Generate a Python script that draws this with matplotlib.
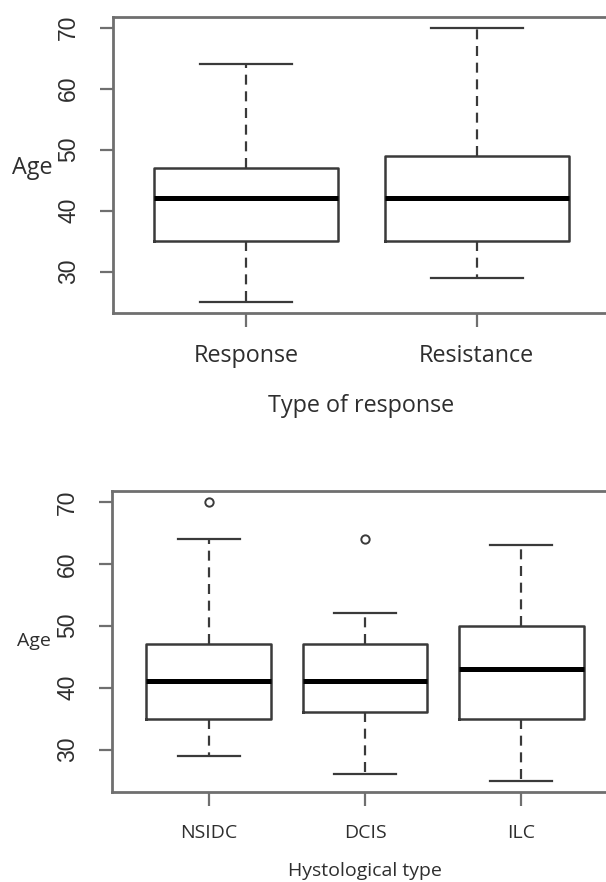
import matplotlib.pyplot as plt

# ---- data ----
resp_groups = ["Response", "Resistance"]
resp_low = [25, 29]
resp_q1 = [35, 35]
resp_med = [42, 42]
resp_q3 = [47, 49]
resp_high = [64, 70]
resp_fliers = [[], []]

hist_groups = ["NSIDC", "DCIS", "ILC"]
hist_low = [29, 26, 25]
hist_q1 = [35, 36, 35]
hist_med = [41, 41, 43]
hist_q3 = [47, 47, 50]
hist_high = [64, 52, 63]
hist_fliers = [[70], [64], []]

age_ticks = [30, 40, 50, 60, 70]

W, H = 606, 882
fig = plt.figure(figsize=(W / 100, H / 100), dpi=100)

line_col = "#3a3a3a"
spine_col = "#6f6f6f"
text_col = "#2e2e2e"
label_font = "Open Sans"
tick_font = "Liberation Sans"


def make_stats(labels, lo, q1, med, q3, hi, fl):
    out = []
    for i in range(len(labels)):
        out.append(dict(label=labels[i], whislo=lo[i], q1=q1[i], med=med[i],
                        q3=q3[i], whishi=hi[i], fliers=fl[i]))
    return out


def draw_panel(rect, labels, stats, xlabel, lab_size, tick_size, ylab_xy, xpad):
    ax = fig.add_axes(rect)
    n = len(labels)
    ax.bxp(stats, positions=range(1, n + 1), widths=0.8, capwidths=0.4,
           boxprops=dict(color=line_col, linewidth=1.8),
           medianprops=dict(color="black", linewidth=3.6, solid_capstyle="butt"),
           whiskerprops=dict(color=line_col, linewidth=1.6, linestyle=(0, (4.5, 3))),
           capprops=dict(color=line_col, linewidth=1.6),
           flierprops=dict(marker="o", markersize=6, markerfacecolor="none",
                           markeredgecolor=line_col, markeredgewidth=1.4))
    ax.set_xlim(0.5 - 0.04 * n, n + 0.5 + 0.04 * n)
    ax.set_ylim(23.2, 71.8)
    ax.set_yticks(age_ticks)
    ax.set_yticklabels([str(t) for t in age_ticks], rotation=90, va="center",
                       family=tick_font, fontsize=tick_size, color=text_col)
    ax.set_xticks(range(1, n + 1))
    ax.set_xticklabels(labels, family=label_font, fontsize=lab_size, color=text_col)
    ax.tick_params(axis="y", length=9.5, width=1.6, color=spine_col, pad=14)
    ax.tick_params(axis="x", length=10, width=1.6, color=spine_col, pad=xpad[0])
    for s in ax.spines.values():
        s.set_color(spine_col)
        s.set_linewidth(2)
    ax.set_xlabel(xlabel, family=label_font, fontsize=lab_size, color=text_col, labelpad=xpad[1])
    ax.set_ylabel("Age", family=label_font, fontsize=lab_size, color=text_col, rotation=0,
                  va="center", ha="center")
    ax.yaxis.set_label_coords(*ylab_xy)
    return ax


# top panel: type of response
top_rect = [113 / W, 1 - 313 / H, (610 - 113) / W, (313 - 16.7) / H]
draw_panel(top_rect, resp_groups,
           make_stats(resp_groups, resp_low, resp_q1, resp_med, resp_q3, resp_high, resp_fliers),
           "Type of response", 16.8, 16.5, (-0.163, 0.49), (12, 19))

# bottom panel: histological type
bot_rect = [112 / W, 1 - 791.7 / H, (618 - 112) / W, (791.7 - 490.7) / H]
draw_panel(bot_rect, hist_groups,
           make_stats(hist_groups, hist_low, hist_q1, hist_med, hist_q3, hist_high, hist_fliers),
           "Hystological type", 14, 16.5, (-0.155, 0.5), (13, 15))

fig.savefig("out.png", dpi=100)
